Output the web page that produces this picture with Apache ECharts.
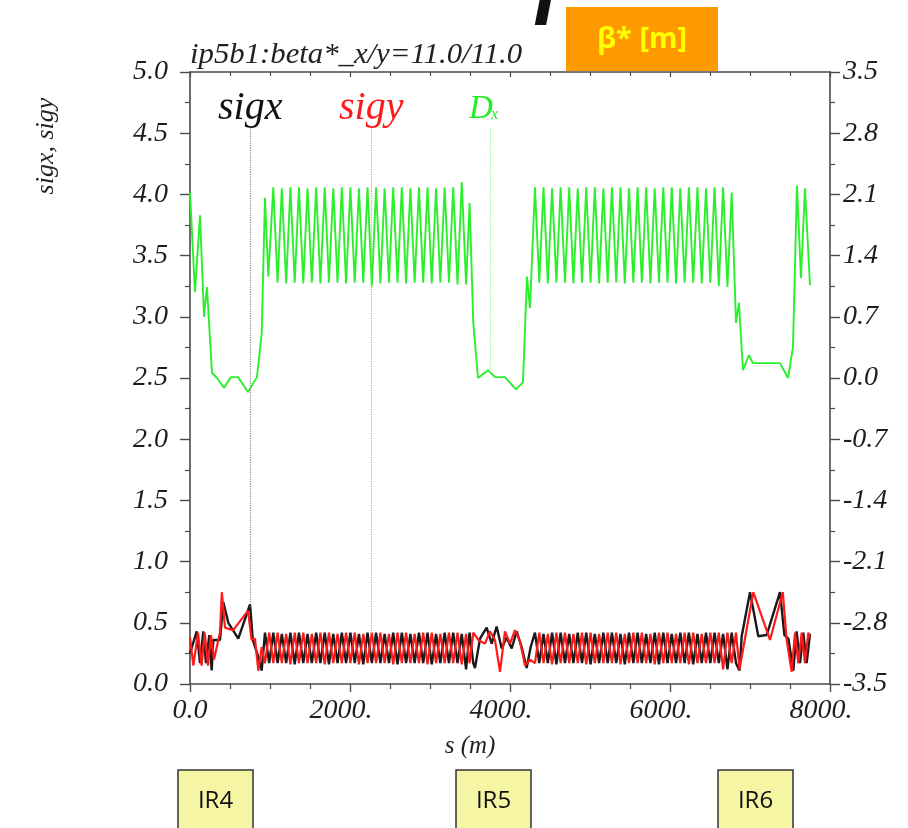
<!DOCTYPE html>
<html>
<head>
<meta charset="utf-8">
<script src="https://cdn.jsdelivr.net/npm/echarts@6/dist/echarts.min.js"></script>
<style>
  html, body { margin: 0; padding: 0; background: #ffffff; }
  #chart { width: 908px; height: 828px; }
</style>
</head>
<body>
<div id="chart"></div>
<script>
// s positions (m) of the two regular arc lattices, one point per half cell
const arcOneS = [1041,1095,1148,1202,1255,1309,1362,1416,1469,1523,1577,1630,1684,1737,1791,1844,1898,1951,2005,2059,2112,2166,2219,2273,2326,2380,2433,2487,2540,2594,2648,2701,2755,2808,2862,2915,2969,3022,3076,3129,3183,3237,3290,3344,3397,3451];
const arcTwoS = [4312,4366,4419,4473,4526,4580,4633,4687,4740,4793,4847,4900,4953,5007,5060,5114,5167,5221,5274,5328,5381,5435,5488,5542,5595,5648,5702,5755,5809,5862,5916,5969,6022,6076,6129,6183,6236,6290,6343,6397,6450,6504,6557,6610,6664,6718];

// horizontal beam size sigx
const sigxS = [0,84,125,166,200,241,271,291,375,416,479,604,750,785,854,896,937,990,
  ...arcOneS,
  3495,3541,3562,3625,3708,3771,3833,3896,3958,4021,4083,4146,4208,4258,
  ...arcTwoS,
  6771,6825,6869,6896,7000,7104,7208,7375,7430,7480,7541,7583,7625,7666,7708,7750];
const sigxV = [0.25,0.43,0.17,0.43,0.17,0.40,0.11,0.36,0.36,0.67,0.50,0.37,0.65,0.36,0.22,0.11,0.42,0.17,
  0.42,0.17,0.41,0.17,0.42,0.16,0.42,0.17,0.41,0.17,0.42,0.17,0.42,0.16,0.41,0.17,0.42,0.17,0.42,0.17,0.41,0.16,0.42,0.17,
  0.42,0.17,0.41,0.17,0.42,0.16,0.42,0.17,0.41,0.17,0.42,0.17,0.42,0.16,0.41,0.17,0.42,0.17,0.42,0.17,0.41,0.12,
  0.42,0.17,0.13,0.37,0.46,0.33,0.47,0.29,0.38,0.29,0.43,0.30,0.13,0.30,
  0.42,0.17,0.41,0.17,0.42,0.16,0.42,0.17,0.41,0.17,0.42,0.17,0.42,0.16,0.41,0.17,0.42,0.17,0.42,0.17,0.41,0.16,0.42,0.17,
  0.42,0.17,0.41,0.17,0.42,0.16,0.42,0.17,0.41,0.17,0.42,0.17,0.42,0.16,0.41,0.17,0.42,0.17,0.42,0.17,0.41,0.12,
  0.42,0.17,0.11,0.39,0.75,0.39,0.40,0.75,0.40,0.37,0.11,0.43,0.17,0.42,0.17,0.41];

// vertical beam size sigy
const sigyS = [0,42,100,145,183,225,262,300,375,398,437,541,725,770,812,854,896,937,990,
  ...arcOneS,
  3495,3541,3604,3687,3750,3812,3875,3937,4000,4062,4125,4187,4250,
  ...arcTwoS,
  6771,6825,6869,6937,7041,7250,7410,7458,7521,7562,7604,7646,7687,7729,7750];
const sigyV = [0.38,0.15,0.42,0.15,0.42,0.15,0.40,0.20,0.42,0.75,0.46,0.44,0.60,0.36,0.37,0.11,0.30,0.17,0.42,
  0.17,0.42,0.17,0.41,0.16,0.42,0.17,0.42,0.17,0.41,0.17,0.42,0.16,0.42,0.17,0.41,0.17,0.42,0.17,0.42,0.16,0.41,0.17,0.42,
  0.17,0.42,0.17,0.41,0.16,0.42,0.17,0.42,0.17,0.41,0.17,0.42,0.16,0.42,0.17,0.41,0.17,0.42,0.17,0.42,0.16,0.41,
  0.17,0.42,0.36,0.33,0.43,0.36,0.10,0.43,0.33,0.44,0.35,0.15,0.20,
  0.17,0.42,0.17,0.41,0.16,0.42,0.17,0.42,0.17,0.41,0.17,0.42,0.16,0.42,0.17,0.41,0.17,0.42,0.17,0.42,0.16,0.41,0.17,0.42,
  0.17,0.42,0.17,0.41,0.16,0.42,0.17,0.42,0.17,0.41,0.17,0.42,0.16,0.42,0.17,0.41,0.17,0.42,0.17,0.42,0.12,0.42,
  0.17,0.42,0.12,0.37,0.75,0.36,0.75,0.36,0.10,0.42,0.17,0.42,0.17,0.42,0.38];

// horizontal dispersion Dx (right axis)
const dxS = [0,62,125,175,212,275,337,425,512,600,725,837,896,937,979,
  ...arcOneS,
  3495,3541,3600,3725,3812,3937,4075,4162,4212,4250,
  ...arcTwoS,
  6771,6825,6862,6912,6987,7037,7375,7475,7537,7587,7637,7687,7750];
const dxV = [2.12,0.98,1.86,0.70,1.04,0.06,0.00,-0.11,0.01,0.01,-0.16,0.01,0.51,2.06,1.16,
  2.18,1.09,2.17,1.08,2.18,1.09,2.18,1.08,2.17,1.09,2.18,1.08,2.18,1.09,2.17,1.09,2.18,1.08,2.18,1.09,2.17,1.09,2.18,1.05,
  2.18,1.08,2.17,1.09,2.18,1.09,2.18,1.08,2.17,1.09,2.18,1.09,2.18,1.08,2.17,1.09,2.18,1.09,2.18,1.07,2.24,1.07,
  2.00,0.63,0.00,0.09,0.01,0.01,-0.13,-0.05,1.16,0.80,
  2.18,1.09,2.18,1.08,2.17,1.09,2.18,1.09,2.18,1.08,2.17,1.09,2.18,1.09,2.18,1.08,2.17,1.09,2.18,1.09,2.18,1.08,2.17,1.09,
  2.18,1.09,2.18,1.08,2.17,1.09,2.18,1.09,2.18,1.08,2.17,1.09,2.18,1.09,2.18,1.08,2.17,1.09,2.18,1.05,2.18,1.04,
  2.12,0.63,0.86,0.09,0.26,0.17,0.17,0.00,0.35,2.20,1.14,2.17,1.06];

// axis tick labels
const sTickLabels = ['0.0', '2000.', '4000.', '6000.', '8000.'];
const insertionNames = ['IR4', 'IR5', 'IR6'];
const insertionBoxX = [178, 456, 718];

// label pointers: s position of each dotted drop line, top in sigma units
const pointerS = { sigx: 752, sigy: 2270, dx: 3759 };
const pointerTop = 4.54;

const serif = '"Liberation Serif", "Times New Roman", serif';

function zip(s, v) { return s.map((x, i) => [x, v[i]]); }
function valueAt(s, v, x) {
  for (let i = 1; i < s.length; i++) {
    if (s[i] >= x) {
      const t = (x - s[i - 1]) / (s[i] - s[i - 1]);
      return v[i - 1] + t * (v[i] - v[i - 1]);
    }
  }
  return v[v.length - 1];
}
// the Dx axis (-3.5..3.5) spans the same height as the sigma axis (0..5)
const toDx = (sig) => sig * 1.4 - 3.5;

const axisColor = '#4a4a4a';
const tickLabelStyle = { fontFamily: serif, fontStyle: 'italic', fontSize: 28, color: '#1c1c1c' };

function pointerLine(s, top, bottom, color) {
  return {
    silent: true, symbol: 'none', animation: false,
    label: { show: false },
    lineStyle: { type: 'dotted', color: color, width: 1.2 },
    data: [[{ coord: [s, top] }, { coord: [s, bottom] }]]
  };
}

const chart = echarts.init(document.getElementById('chart'), null, { renderer: 'canvas' });

const graphics = [
  // heading glyph cut by the top edge
  { type: 'text', x: 538, y: -38, style: { text: 'p', fill: '#111', font: 'italic 130px "Liberation Sans", sans-serif', align: 'left', verticalAlign: 'middle' } },
  { type: 'rect', shape: { x: 566, y: 7, width: 152, height: 64 }, style: { fill: '#ff9900' } },
  { type: 'text', x: 642, y: 40, style: { text: 'β* [m]', fill: '#ffff00', font: 'bold 29px "Open Sans", sans-serif', align: 'center', verticalAlign: 'middle' } },
  { type: 'text', x: 190, y: 70, scaleX: 1.06, style: { text: 'ip5b1:beta*_x/y=11.0/11.0', fill: '#222', font: 'italic 29px ' + serif, align: 'left', verticalAlign: 'bottom' } },
  { type: 'text', x: 218, y: 128, style: { text: 'sigx', fill: '#111', font: 'italic 40px ' + serif, align: 'left', verticalAlign: 'bottom' } },
  { type: 'text', x: 339, y: 128, style: { text: 'sigy', fill: '#ff1a1a', font: 'italic 40px ' + serif, align: 'left', verticalAlign: 'bottom' } },
  { type: 'text', x: 469, y: 126, style: { text: 'D', fill: '#22ee22', font: 'italic 33px ' + serif, align: 'left', verticalAlign: 'bottom' } },
  { type: 'text', x: 491, y: 123, style: { text: 'x', fill: '#22ee22', font: 'italic 16px ' + serif, align: 'left', verticalAlign: 'bottom' } },
  { type: 'text', x: 46, y: 146, rotation: Math.PI / 2, style: { text: 'sigx, sigy', fill: '#222', font: 'italic 26px ' + serif, align: 'center', verticalAlign: 'middle' } },
  { type: 'text', x: 470, y: 746, style: { text: 's (m)', fill: '#222', font: 'italic 25px ' + serif, align: 'center', verticalAlign: 'middle' } }
];
insertionNames.forEach((name, i) => {
  const x0 = insertionBoxX[i];
  graphics.push({ type: 'rect', shape: { x: x0, y: 770, width: 75, height: 70 }, style: { fill: '#f5f5a3', stroke: '#333', lineWidth: 1.5 } });
  graphics.push({ type: 'text', x: x0 + 37.5, y: 801, style: { text: name, fill: '#111', font: '24px "Open Sans", sans-serif', align: 'center', verticalAlign: 'middle' } });
});

const option = {
  backgroundColor: '#ffffff',
  animation: false,
  grid: { left: 190, right: 78, top: 72, bottom: 144, containLabel: false },
  xAxis: [
    {
      type: 'value', position: 'bottom', min: 0, max: 8000, interval: 2000,
      axisLine: { show: true, onZero: false, lineStyle: { color: axisColor, width: 1.6 } },
      axisTick: { show: true, inside: false, length: 8, lineStyle: { color: axisColor, width: 1.4 } },
      minorTick: { show: true, splitNumber: 4, length: 5, lineStyle: { color: axisColor, width: 1.2 } },
      splitLine: { show: false },
      axisLabel: Object.assign({}, tickLabelStyle, {
        margin: 13,
        formatter: (v) => {
          const t = sTickLabels[Math.round(v / 2000)] || '';
          return v === 0 ? t : '{p|' + t + '}';
        },
        rich: { p: Object.assign({}, tickLabelStyle, { padding: [0, 18, 0, 0] }) }
      })
    },
    {
      type: 'value', position: 'top', min: 0, max: 8000, interval: 2000,
      axisLine: { show: true, onZero: false, lineStyle: { color: axisColor, width: 1.6 } },
      axisTick: { show: true, inside: true, length: 5, lineStyle: { color: axisColor, width: 1.2 } },
      minorTick: { show: true, splitNumber: 4, length: 4, lineStyle: { color: axisColor, width: 1.2 } },
      splitLine: { show: false },
      axisLabel: { show: false }
    }
  ],
  yAxis: [
    {
      type: 'value', position: 'left', min: 0, max: 5, interval: 0.5,
      axisLine: { show: true, onZero: false, lineStyle: { color: axisColor, width: 1.6 } },
      axisTick: { show: true, inside: false, length: 10, lineStyle: { color: axisColor, width: 1.4 } },
      minorTick: { show: true, splitNumber: 2, length: 5, lineStyle: { color: axisColor, width: 1.2 } },
      splitLine: { show: false },
      axisLabel: Object.assign({}, tickLabelStyle, { margin: 22, formatter: (v) => v.toFixed(1) })
    },
    {
      type: 'value', position: 'right', min: -3.5, max: 3.5, interval: 0.7,
      axisLine: { show: true, onZero: false, lineStyle: { color: axisColor, width: 1.6 } },
      axisTick: { show: true, inside: false, length: 10, lineStyle: { color: axisColor, width: 1.4 } },
      minorTick: { show: true, splitNumber: 2, length: 5, lineStyle: { color: axisColor, width: 1.2 } },
      splitLine: { show: false },
      axisLabel: Object.assign({}, tickLabelStyle, { margin: 13, formatter: (v) => v.toFixed(1) })
    }
  ],
  series: [
    {
      name: 'sigx', type: 'line', xAxisIndex: 0, yAxisIndex: 0,
      data: zip(sigxS, sigxV), symbol: 'none', showSymbol: false,
      lineStyle: { color: '#1a1a1a', width: 2.4 }, z: 3,
      markLine: pointerLine(pointerS.sigx, pointerTop, valueAt(sigxS, sigxV, pointerS.sigx), '#8a8a8a')
    },
    {
      name: 'sigy', type: 'line', xAxisIndex: 0, yAxisIndex: 0,
      data: zip(sigyS, sigyV), symbol: 'none', showSymbol: false,
      lineStyle: { color: '#ff1a1a', width: 2.2 }, z: 4,
      markLine: pointerLine(pointerS.sigy, pointerTop, valueAt(sigyS, sigyV, pointerS.sigy), '#ff8a8a')
    },
    {
      name: 'Dx', type: 'line', xAxisIndex: 0, yAxisIndex: 1,
      data: zip(dxS, dxV), symbol: 'none', showSymbol: false,
      lineStyle: { color: '#2bef2b', width: 1.9 }, z: 2,
      markLine: pointerLine(pointerS.dx, toDx(pointerTop), valueAt(dxS, dxV, pointerS.dx), '#8af58a')
    }
  ],
  graphic: graphics
};

chart.setOption(option);
</script>
</body>
</html>
